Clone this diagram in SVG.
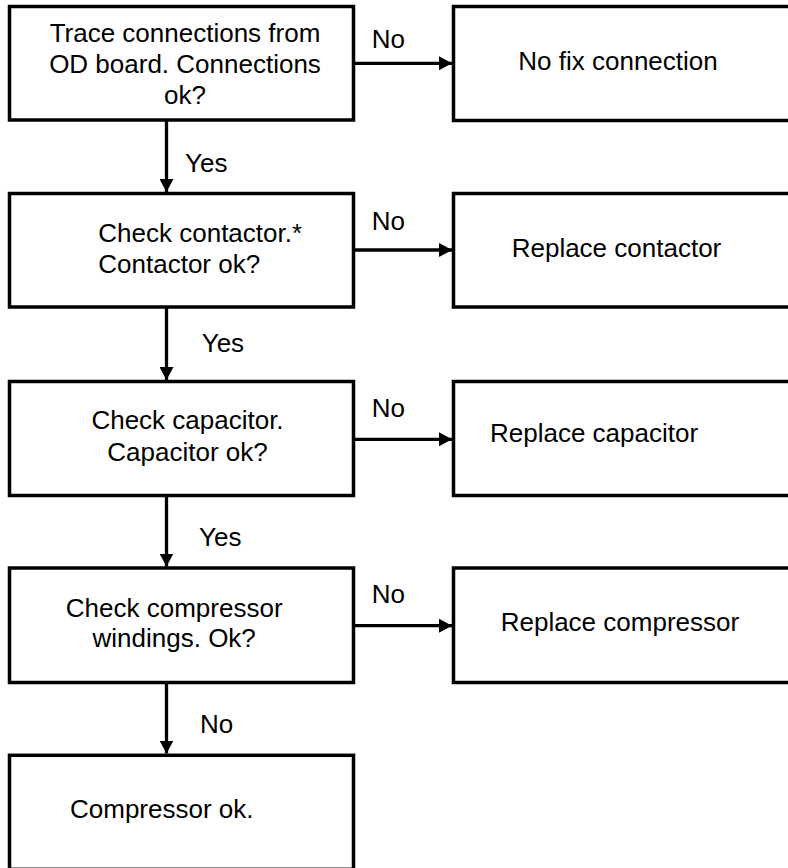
<svg xmlns="http://www.w3.org/2000/svg" width="788" height="868" viewBox="0 0 788 868">
<style>
  .box { fill: #ffffff; stroke: #000000; stroke-width: 3.5; }
  .t { font-family: "Liberation Sans", Arial, sans-serif; font-size: 26px; fill: #000000; }
  .c { text-anchor: middle; }
  .edge { stroke: #000000; stroke-width: 3.3; fill: none; marker-end: url(#arrow); }
</style>
<defs>
  <marker id="arrow" markerUnits="userSpaceOnUse" markerWidth="14" markerHeight="14" refX="13" refY="7" orient="auto">
    <path d="M0,0 L13,7 L0,14 Z" fill="#000000"/>
  </marker>
</defs>
<rect width="788" height="868" fill="#ffffff"/>

<g id="n1">
  <rect class="box" x="9.5" y="6.5" width="344" height="113.5"/>
  <text class="t c" x="185" y="42">Trace connections from</text>
  <text class="t c" x="185" y="73">OD board. Connections</text>
  <text class="t c" x="185" y="104">ok?</text>
</g>
<g id="r1">
  <rect class="box" x="453.5" y="6.5" width="340" height="114"/>
  <text class="t" x="518.3" y="70">No fix connection</text>
</g>
<g id="n2">
  <rect class="box" x="9.5" y="193.5" width="344" height="113.5"/>
  <text class="t" x="98.3" y="241.7">Check contactor.*</text>
  <text class="t" x="98.3" y="273.3">Contactor ok?</text>
</g>
<g id="r2">
  <rect class="box" x="453.5" y="193.5" width="340" height="113.5"/>
  <text class="t" x="511.7" y="256.7">Replace contactor</text>
</g>
<g id="n3">
  <rect class="box" x="9.5" y="381.5" width="344" height="114"/>
  <text class="t c" x="187.5" y="429.3">Check capacitor.</text>
  <text class="t c" x="187.5" y="460.7">Capacitor ok?</text>
</g>
<g id="r3">
  <rect class="box" x="453.5" y="381.5" width="340" height="114"/>
  <text class="t" x="490" y="441.7">Replace capacitor</text>
</g>
<g id="n4">
  <rect class="box" x="9.5" y="568" width="344" height="114.5"/>
  <text class="t c" x="174.2" y="616.7">Check compressor</text>
  <text class="t c" x="174.2" y="647.3">windings. Ok?</text>
</g>
<g id="r4">
  <rect class="box" x="453.5" y="568" width="340" height="114.5"/>
  <text class="t" x="500.7" y="631">Replace compressor</text>
</g>
<g id="n5">
  <rect class="box" x="9.5" y="755.3" width="344" height="114"/>
  <text class="t" x="70" y="817.7">Compressor ok.</text>
</g>

<g id="connectors">
  <line class="edge" x1="166.5" y1="120" x2="166.5" y2="192"/>
  <line class="edge" x1="166.5" y1="307" x2="166.5" y2="380"/>
  <line class="edge" x1="166.5" y1="495.5" x2="166.5" y2="566.5"/>
  <line class="edge" x1="166.5" y1="682.5" x2="166.5" y2="753.5"/>
  <line class="edge" x1="353.5" y1="63.3" x2="452" y2="63.3"/>
  <line class="edge" x1="353.5" y1="250" x2="452" y2="250"/>
  <line class="edge" x1="353.5" y1="439.3" x2="452" y2="439.3"/>
  <line class="edge" x1="353.5" y1="625.7" x2="452" y2="625.7"/>
  <text class="t" x="185" y="172.3">Yes</text>
  <text class="t" x="201.7" y="351.7">Yes</text>
  <text class="t" x="199" y="545.7">Yes</text>
  <text class="t" x="200" y="733.3">No</text>
  <text class="t" x="371.7" y="48.3">No</text>
  <text class="t" x="371.7" y="230">No</text>
  <text class="t" x="371.7" y="416.7">No</text>
  <text class="t" x="371.7" y="603.3">No</text>
</g>
</svg>
